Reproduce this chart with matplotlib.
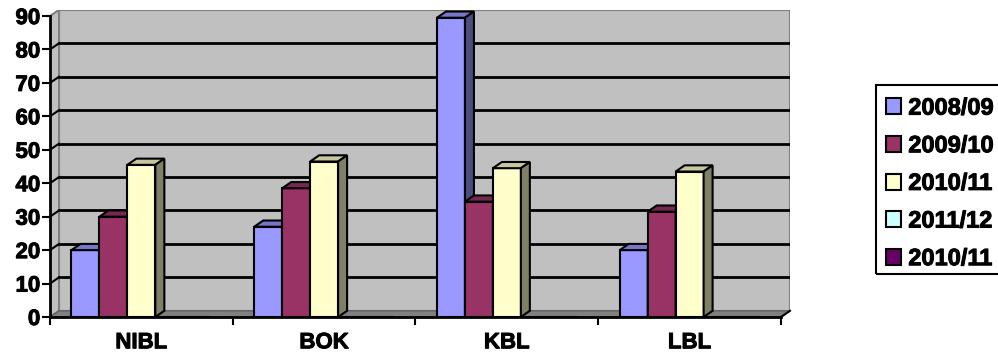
import matplotlib
matplotlib.use("Agg")
import matplotlib.pyplot as plt
from matplotlib.patches import Polygon, Rectangle
import matplotlib.patheffects as pe
import numpy as np

plt.rcParams['font.family'] = ['Liberation Sans', 'DejaVu Sans']
plt.rcParams['font.weight'] = 'bold'

banks = ['NIBL', 'BOK', 'KBL', 'LBL']
years = ['2008/09', '2009/10', '2010/11', '2011/12', '2010/11']
v_0809 = [20, 27, 89.5, 20]
v_0910 = [30, 38.5, 34.5, 31.5]
v_1011 = [45.5, 46.5, 44.5, 43.5]
v_1112 = [0, 0, 0, 0]
v_1011b = [0, 0, 0, 0]
series = [v_0809, v_0910, v_1011, v_1112, v_1011b]
colors = ['#9999FF', '#993366', '#FFFFCC', '#CCFFFF', '#660066']
yticks = [0, 10, 20, 30, 40, 50, 60, 70, 80, 90]

W, H = 998, 356
fig = plt.figure(figsize=(W / 100, H / 100), dpi=100)
fig.patch.set_facecolor('white')

# axes in pixel terms: x -0.5 at px 50, 3.5 at px 781; y 0 at px 317
px_x = 731 / 4.0
px_y = 3.344
ax = fig.add_axes([50 / W, 39 / H, 740 / W, 307 / H])
xmax = 3.5 + 9 / px_x
ymax = 307 / px_y
ax.set_xlim(-0.5, xmax)
ax.set_ylim(0, ymax)
ax.patch.set_visible(False)

# depth offset in data units
dx = 9 / px_x
dy = 6.2 / px_y

wall_c = '#C0C0C0'
edge_gray = '#808080'

# back wall
ax.add_patch(Polygon([(-0.5 + dx, dy), (3.5 + dx, dy), (3.5 + dx, 90 + dy), (-0.5 + dx, 90 + dy)],
                     closed=True, fc=wall_c, ec=edge_gray, lw=1.5, zorder=1))
# left wall
ax.add_patch(Polygon([(-0.5, 0), (-0.5 + dx, dy), (-0.5 + dx, 90 + dy), (-0.5, 90)],
                     closed=True, fc=wall_c, ec=edge_gray, lw=1.5, zorder=1))
# floor
ax.add_patch(Polygon([(-0.5, 0), (3.5, 0), (3.5 + dx, dy), (-0.5 + dx, dy)],
                     closed=True, fc='#808080', ec='#606060', lw=1, zorder=1.5))
ax.plot([3.5, 3.5 + dx], [0, dy], color='black', lw=1.5, zorder=2, clip_on=False)

# gridlines on the walls
for v in yticks[1:-1]:
    ax.plot([-0.5 + dx, 3.5 + dx], [v + dy, v + dy], color='black', lw=2, zorder=2)
    ax.plot([-0.5, -0.5 + dx], [v, v + dy], color='black', lw=1.5, zorder=2)

def shade(c, f):
    rgb = np.array(matplotlib.colors.to_rgb(c))
    return tuple(rgb * f)

w = 0.153
x = np.arange(len(banks))
handles = []
z = 3
for i in range(len(banks)):
    for s in range(len(series)):
        h = series[s][i]
        x0 = x[i] + (s - 2) * w - w / 2
        x1 = x0 + w
        b = ax.bar(x0, h, width=w, align='edge', color=colors[s], edgecolor='black',
                   lw=1.5, zorder=z)
        if i == 0:
            handles.append(b[0])
        if h > 0:
            # top and side faces for the 3d look
            ax.add_patch(Polygon([(x0, h), (x1, h), (x1 + dx, h + dy), (x0 + dx, h + dy)],
                                 closed=True, fc=shade(colors[s], 0.78), ec='black',
                                 lw=1.5, zorder=z))
            ax.add_patch(Polygon([(x1, 0), (x1 + dx, dy), (x1 + dx, h + dy), (x1, h)],
                                 closed=True, fc=shade(colors[s], 0.5), ec='black',
                                 lw=1.5, zorder=z))
        z += 0.1

for sp in ['top', 'right']:
    ax.spines[sp].set_visible(False)
ax.spines['left'].set_bounds(0, 90)
ax.spines['bottom'].set_bounds(-0.5, 3.5)
for sp in ['left', 'bottom']:
    ax.spines[sp].set_linewidth(2)
    ax.spines[sp].set_zorder(10)

heavy = [pe.withStroke(linewidth=0.7, foreground='black')]

ax.set_yticks(yticks)
ax.set_yticklabels([str(t) for t in yticks], fontsize=16, fontweight='bold')
ax.tick_params(axis='y', length=6, width=1.5, pad=1, direction='out')

ax.set_xticks([-0.5, 0.5, 1.5, 2.5, 3.5])
ax.set_xticklabels([])
ax.set_xticks(x, minor=True)
ax.set_xticklabels(banks, minor=True, fontsize=16, fontweight='bold')
ax.tick_params(axis='x', which='major', length=6, width=1.5, direction='out')
ax.tick_params(axis='x', which='minor', length=0, pad=11)

for t in ax.get_yticklabels() + ax.get_xticklabels(minor=True):
    t.set_path_effects(heavy)

# legend entries without frame, box drawn separately (it runs off the right edge)
leg = fig.legend(handles, years, loc='upper left', bbox_to_anchor=(875 / W, 1 - 86 / H),
                 frameon=False, borderaxespad=0,
                 prop={'weight': 'bold', 'size': 17}, handlelength=0.66, handleheight=0.66,
                 handletextpad=0.3, labelspacing=0.62, borderpad=0.45)
for t in leg.get_texts():
    t.set_path_effects(heavy)
fig.add_artist(Rectangle((875.5 / W, 1 - 274 / H), 140 / W, 189 / H, transform=fig.transFigure,
                         fill=False, ec='black', lw=1.5))

fig.savefig('out.png', dpi=100)
